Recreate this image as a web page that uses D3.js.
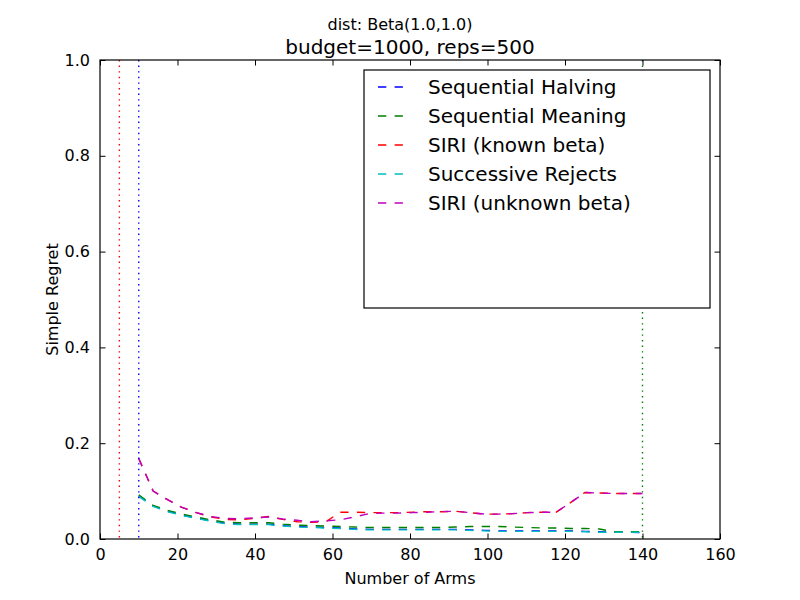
<!DOCTYPE html>
<html lang="en">
<head>
    <meta charset="UTF-8">
    <title>Simple Regret vs Number of Arms</title>
    <script src="https://cdn.jsdelivr.net/npm/d3@7/dist/d3.min.js"></script>
    <style>
        body { margin: 0; background: white; }
        text { font-family: "DejaVu Sans", sans-serif; fill: black; }
        .tick-label { font-size: 16px; }
        .axis-label { font-size: 16px; }
        .legend-label { font-size: 20px; }
    </style>
</head>
<body>
<svg id="chart" width="800" height="600"></svg>
<script>
    // x grid: 36 arm counts between 10 and 140
    const arms = d3.range(36).map(i => 10 + i * 130 / 35);

    const seqHalving = [0.090, 0.069, 0.058, 0.050, 0.044, 0.038, 0.033, 0.031, 0.031, 0.031,
        0.028, 0.026, 0.025, 0.024, 0.023, 0.021, 0.020, 0.020, 0.020, 0.020,
        0.020, 0.020, 0.020, 0.019, 0.018, 0.017, 0.017, 0.017, 0.017, 0.017,
        0.017, 0.016, 0.015, 0.014, 0.014, 0.013];
    const seqMeaning = [0.092, 0.070, 0.060, 0.052, 0.046, 0.040, 0.035, 0.034, 0.034, 0.034,
        0.031, 0.029, 0.028, 0.027, 0.026, 0.025, 0.024, 0.024, 0.024, 0.024,
        0.024, 0.024, 0.025, 0.026, 0.026, 0.026, 0.025, 0.024, 0.023, 0.023,
        0.022, 0.022, 0.021, 0.015, 0.015, 0.015];
    const siriKnown = [0.168, 0.100, 0.082, 0.066, 0.055, 0.046, 0.041, 0.040, 0.043, 0.047,
        0.041, 0.036, 0.035, 0.036, 0.056, 0.056, 0.055, 0.055, 0.055, 0.056,
        0.057, 0.057, 0.058, 0.055, 0.052, 0.052, 0.053, 0.055, 0.056, 0.056,
        0.076, 0.097, 0.096, 0.095, 0.095, 0.095];
    const succRejects = [0.089, 0.068, 0.057, 0.049, 0.043, 0.037, 0.032, 0.030, 0.030, 0.030,
        0.027, 0.025, 0.024, 0.023, 0.022, 0.020, 0.019, 0.019, 0.019, 0.019,
        0.019, 0.019, 0.019, 0.018, 0.017, 0.016, 0.016, 0.016, 0.016, 0.016,
        0.016, 0.015, 0.014, 0.014, 0.014, 0.014];
    const siriUnknown = [0.168, 0.100, 0.082, 0.066, 0.055, 0.047, 0.043, 0.042, 0.044, 0.046,
        0.042, 0.039, 0.036, 0.038, 0.040, 0.046, 0.053, 0.054, 0.054, 0.055,
        0.056, 0.057, 0.058, 0.055, 0.052, 0.052, 0.053, 0.055, 0.056, 0.056,
        0.076, 0.097, 0.096, 0.095, 0.095, 0.095];

    const seriesNames = ["Sequential Halving", "Sequential Meaning", "SIRI (known beta)",
        "Successive Rejects", "SIRI (unknown beta)"];
    const seriesValues = [seqHalving, seqMeaning, siriKnown, succRejects, siriUnknown];
    const seriesColors = ["#0000ff", "#008000", "#ff0000", "#00bfbf", "#bf00bf"];

    // vertical dotted markers
    const markerX = [5, 10, 140];
    const markerColors = ["#ff0000", "#0000ff", "#008000"];

    const xTicks = [0, 20, 40, 60, 80, 100, 120, 140, 160];
    const yTicks = [0.0, 0.2, 0.4, 0.6, 0.8, 1.0];

    const margin = { top: 60, right: 80, bottom: 61, left: 100 };
    const svgWidth = 800, svgHeight = 600;
    const width = svgWidth - margin.left - margin.right;
    const height = svgHeight - margin.top - margin.bottom;

    const svg = d3.select("#chart");
    const chart = svg.append("g")
        .attr("transform", `translate(${margin.left}, ${margin.top})`);

    const x = d3.scaleLinear().domain([0, 160]).range([0, width]);
    const y = d3.scaleLinear().domain([0, 1]).range([height, 0]);

    const clip = chart.append("clipPath").attr("id", "plot-clip")
        .append("rect").attr("width", width).attr("height", height);

    const plot = chart.append("g").attr("clip-path", "url(#plot-clip)");

    // series lines
    const line = d3.line().x(d => x(d[0])).y(d => y(d[1]));
    seriesValues.forEach((vals, i) => {
        plot.append("path")
            .datum(arms.map((a, j) => [a, vals[j]]))
            .attr("fill", "none")
            .attr("stroke", seriesColors[i])
            .attr("stroke-width", 1.4)
            .attr("stroke-dasharray", "8.3,8.3")
            .attr("d", line);
    });

    // vertical markers
    plot.selectAll(".marker")
        .data(markerX)
        .enter()
        .append("line")
        .attr("x1", d => x(d))
        .attr("x2", d => x(d))
        .attr("y1", 0)
        .attr("y2", height)
        .attr("stroke", (d, i) => markerColors[i])
        .attr("stroke-width", 1.4)
        .attr("stroke-dasharray", "1.4,4.2");

    // axes: inward ticks on all four sides
    const tickLen = 5.5;
    chart.append("g")
        .attr("transform", `translate(0, ${height})`)
        .call(d3.axisBottom(x).tickValues(xTicks).tickSizeInner(-tickLen).tickSizeOuter(0).tickPadding(10))
        .call(g => g.selectAll("text").attr("class", "tick-label"));
    chart.append("g")
        .call(d3.axisTop(x).tickValues(xTicks).tickSizeInner(-tickLen).tickSizeOuter(0).tickFormat(""));
    chart.append("g")
        .call(d3.axisLeft(y).tickValues(yTicks).tickSizeInner(-tickLen).tickSizeOuter(0).tickPadding(10)
            .tickFormat(d3.format(".1f")))
        .call(g => g.selectAll("text").attr("class", "tick-label"));
    chart.append("g")
        .attr("transform", `translate(${width}, 0)`)
        .call(d3.axisRight(y).tickValues(yTicks).tickSizeInner(-tickLen).tickSizeOuter(0).tickFormat(""));

    chart.selectAll(".domain").remove();
    chart.selectAll(".tick line").attr("stroke", "black").attr("stroke-width", 1);
    chart.selectAll(".tick text").attr("fill", "black").style("font-family", "DejaVu Sans");

    chart.append("rect")
        .attr("width", width)
        .attr("height", height)
        .attr("fill", "none")
        .attr("stroke", "black")
        .attr("stroke-width", 1.2);

    // legend
    const legend = chart.append("g")
        .attr("transform", `translate(${364 - margin.left}, ${70 - margin.top})`);
    legend.append("rect")
        .attr("width", 346)
        .attr("height", 238)
        .attr("fill", "white")
        .attr("stroke", "black")
        .attr("stroke-width", 1.2);
    seriesNames.forEach((name, i) => {
        const row = legend.append("g").attr("transform", `translate(0, ${17 + i * 29})`);
        row.append("line")
            .attr("x1", 13).attr("x2", 40)
            .attr("stroke", seriesColors[i])
            .attr("stroke-width", 1.4)
            .attr("stroke-dasharray", "8.3,8.3")
            .attr("stroke-dashoffset", -1);
        row.append("text")
            .attr("class", "legend-label")
            .attr("x", 64)
            .attr("dy", "0.36em")
            .text(name);
    });

    // labels and titles
    chart.append("text")
        .attr("class", "axis-label")
        .attr("x", width / 2)
        .attr("y", height + 45)
        .attr("text-anchor", "middle")
        .text("Number of Arms");
    chart.append("text")
        .attr("class", "axis-label")
        .attr("transform", "rotate(-90)")
        .attr("x", -height / 2)
        .attr("y", -42)
        .attr("text-anchor", "middle")
        .text("Simple Regret");
    chart.append("text")
        .attr("x", width / 2)
        .attr("y", -6)
        .attr("text-anchor", "middle")
        .style("font-size", "20px")
        .text("budget=1000, reps=500");
    svg.append("text")
        .attr("x", svgWidth / 2)
        .attr("y", 30)
        .attr("text-anchor", "middle")
        .style("font-size", "16px")
        .text("dist: Beta(1.0,1.0)");
</script>
</body>
</html>
